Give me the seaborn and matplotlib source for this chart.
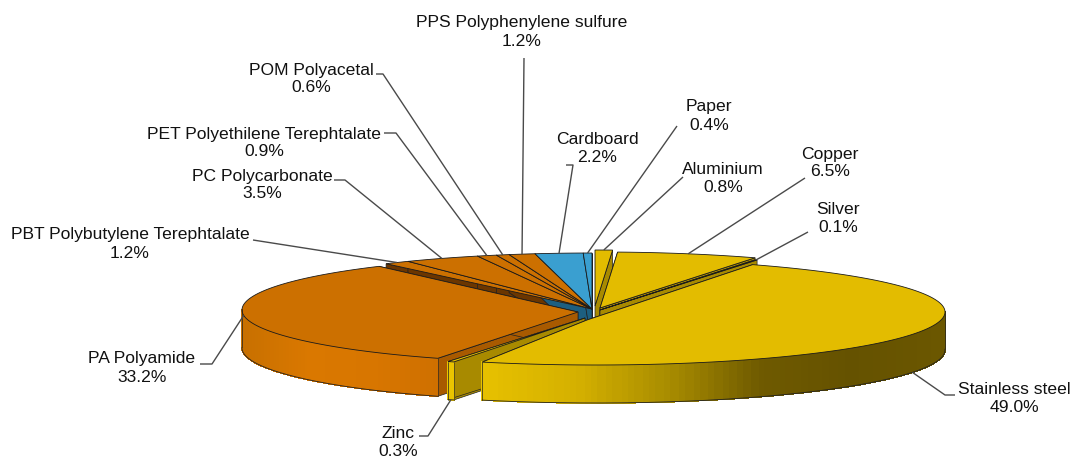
import numpy as np
import matplotlib
matplotlib.use('Agg')
import matplotlib.pyplot as plt
import seaborn as sns

materials = ['Aluminium', 'Copper', 'Silver', 'Stainless steel', 'Zinc', 'PA Polyamide',
             'PBT Polybutylene Terephtalate', 'PC Polycarbonate', 'PET Polyethilene Terephtalate',
             'POM Polyacetal', 'PPS Polyphenylene sulfure', 'Cardboard', 'Paper']
shares = [0.8, 6.5, 0.1, 49.0, 0.3, 33.2, 1.2, 3.5, 0.9, 0.6, 1.2, 2.2, 0.4]
percent_labels = ['0.8%', '6.5%', '0.1%', '49.0%', '0.3%', '33.2%', '1.2%', '3.5%', '0.9%', '0.6%', '1.2%', '2.2%', '0.4%']

YEL, ORA, BLU = '#E3BC00', '#CC7000', '#3A9FD0'
top_colors = [YEL, YEL, YEL, YEL, YEL, ORA, ORA, ORA, ORA, ORA, ORA, BLU, BLU]
cut_colors = ['#A88A00', '#B09200', '#A88A00', '#A88A00', '#A88A00', '#A85A00', '#6B3600', '#6B3600',
              '#6B3600', '#6B3600', '#6B3600', '#1D5F80', '#1D5F80']
rim_stops = {3: ['#E6C000', '#D4B000', '#A88C00', '#6F5A00', '#655200', '#6B5700'],
             4: ['#EAC400', '#EAC400'],
             5: ['#C87000', '#DA7800', '#D87600', '#CF7000']}

# geometry of the tilted pie, in pixels
DEPTH = 38
apex = {3: (587, 320), 4: (585, 318), 5: (578, 312)}
centre = {3: (596, 312), 4: (588, 316), 5: (575, 310), 0: (595, 306), 1: (600, 308), 2: (600, 310)}
radii = {3: (349, 53, 53), 4: (340, 50, 50), 5: (333, 54, 53)}
default_centre = (592, 309)
default_radii = (350, 56, 56)
back_slices = [6, 7, 8, 9, 10, 11, 12, 0, 1, 2]
front_slices = [5, 4, 3]
# the front cut of the steel slice sits a little further round in the original's perspective
end_shift = {3: 4.2}

# label centre, first line y, leader points from the label side
label_pos = {0: (723, 170), 1: (830, 154), 2: (838, 209), 3: (1014, 390), 4: (398, 433), 5: (142, 359),
             6: (130, 235), 7: (262, 176), 8: (264, 134), 9: (311, 70), 10: (522, 23), 11: (597, 140), 12: (709, 107)}
leader_pts = {0: [(683, 177)], 1: [(805, 178)], 2: [(808, 232)], 3: [(955, 395), (945, 395)],
              4: [(419, 436), (428, 436)], 5: [(200, 364), (212, 364)], 6: [(253, 240)],
              7: [(334, 180), (345, 180)], 8: [(384, 133), (396, 133)], 9: [(376, 74), (383, 74)],
              10: [(524, 58)], 11: [(566, 165), (573, 165)], 12: [(677, 126)]}
leader_from_base = [3, 4]


def rim_xy(t, cx, cy, a, bfar, bnear):
    b = np.where(np.sin(t) > 0, bfar, bnear)
    return cx + a * np.cos(t), cy - b * np.sin(t)


sns.set_theme(style='white')
plt.rcParams['font.family'] = ['Liberation Sans', 'DejaVu Sans']

fig = plt.figure(figsize=(10.72, 4.57), dpi=100)
ax = fig.add_axes([0, 0, 1, 1])
ax.set_xlim(0, 1072)
ax.set_ylim(457, 0)
ax.axis('off')

ends = 90 - np.cumsum(shares) / np.sum(shares) * 360
starts = np.r_[90, ends[:-1]]


def slice_rim(i):
    cx, cy = centre.get(i, default_centre)
    a, bfar, bnear = radii.get(i, default_radii)
    t0, t1 = starts[i], ends[i] + end_shift.get(i, 0)
    t = np.radians(np.linspace(t0, t1, max(4, int(abs(t0 - t1) * 2))))
    x, y = rim_xy(t, cx, cy, a, bfar, bnear)
    return apex.get(i, (cx, cy)), t, x, y


def draw_walls(i):
    (ax0, ay0), t, x, y = slice_rim(i)
    for k in (0, -1):
        ax.fill([ax0, x[k], x[k], ax0], [ay0, y[k], y[k] + DEPTH, ay0 + DEPTH],
                facecolor=cut_colors[i], edgecolor='#222222', lw=0.5)
    front = np.sin(t) < 0.02
    if not front.any():
        return
    fx, fy = x[front], y[front]
    shades = sns.blend_palette(rim_stops.get(i, [top_colors[i], top_colors[i]]), 64)
    for j in range(len(fx) - 1):
        pos = (0.5 * (fx[j] + fx[j + 1]) - fx.min()) / max(fx.max() - fx.min(), 1)
        col = shades[int(np.clip(pos, 0, 0.999) * 64)]
        ax.fill([fx[j], fx[j + 1], fx[j + 1], fx[j]],
                [fy[j], fy[j + 1], fy[j + 1] + DEPTH, fy[j] + DEPTH],
                facecolor=col, edgecolor=col, lw=0.5, antialiased=False)
    ax.plot(fx, fy + DEPTH, color='#222222', lw=0.6)
    ax.plot([fx[0], fx[0]], [fy[0], fy[0] + DEPTH], color='#222222', lw=0.5)
    ax.plot([fx[-1], fx[-1]], [fy[-1], fy[-1] + DEPTH], color='#222222', lw=0.5)


def draw_top(i):
    (ax0, ay0), t, x, y = slice_rim(i)
    ax.fill(np.r_[ax0, x], np.r_[ay0, y], facecolor=top_colors[i], edgecolor='#1a1a1a', lw=0.6)


# back slices: all walls first, then all tops, so inner walls stay hidden
for i in back_slices:
    draw_walls(i)
for i in back_slices:
    draw_top(i)
for i in front_slices:
    draw_walls(i)
    draw_top(i)

for i, name in enumerate(materials):
    cx, cy = centre.get(i, default_centre)
    a, bfar, bnear = radii.get(i, default_radii)
    tm = np.radians((starts[i] + ends[i]) / 2)
    mx, my = rim_xy(tm, cx, cy, a, bfar, bnear)
    my = float(my) + (DEPTH if i in leader_from_base else 0)
    px = [p[0] for p in leader_pts[i]] + [float(mx)]
    py = [p[1] for p in leader_pts[i]] + [my]
    ax.plot(px, py, color='#4a4a4a', lw=1.0, zorder=5, solid_capstyle='butt')
    lx, ly = label_pos[i]
    ax.text(lx, ly, name, ha='center', va='center', fontsize=12.6, color='#111111', zorder=6)
    ax.text(lx, ly + 18, percent_labels[i], ha='center', va='center', fontsize=12.6,
            color='#111111', zorder=6)

fig.savefig('out.png', dpi=100)
